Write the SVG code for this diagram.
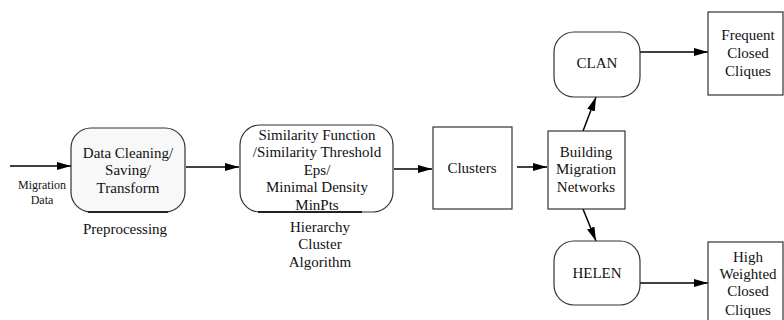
<svg xmlns="http://www.w3.org/2000/svg" width="784" height="320" viewBox="0 0 784 320">
<defs>
<marker id="ah" markerWidth="14" markerHeight="8" refX="14" refY="4" orient="auto" markerUnits="userSpaceOnUse">
<path d="M0,0 L14,4 L0,8 Z" fill="#000"/>
</marker>
</defs>
<style>
.box{fill:#fff;stroke:#333;stroke-width:1.2}
text{font-family:'Liberation Serif','Times New Roman',Times,'DejaVu Serif',serif;fill:#111;text-anchor:middle}
.t{font-size:15px}
.s{font-size:12px}
.c{stroke:#000;stroke-width:1.5;fill:none;marker-end:url(#ah)}
.sh{stroke:#222;stroke-width:2}
</style>
<rect width="784" height="320" fill="#fff"/>
<g id="connectors">
<line class="c" x1="10" y1="166" x2="71" y2="166"/>
<line class="c" x1="186" y1="167" x2="239" y2="167"/>
<line class="c" x1="394" y1="169" x2="432" y2="169"/>
<line class="c" x1="517" y1="167" x2="547" y2="167"/>
<line class="c" x1="583" y1="131" x2="596" y2="97"/>
<line class="c" x1="583" y1="209" x2="596" y2="241"/>
<line class="c" x1="638" y1="52" x2="708" y2="52"/>
<line class="c" x1="638" y1="283" x2="708" y2="283"/>
</g>
<g id="input" font-family="Liberation Serif, serif">
<text class="s" x="42" y="189">Migration</text>
<text class="s" x="42" y="204">Data</text>
</g>
<g id="preprocessing">
<rect class="box" x="71" y="128" width="114" height="84" rx="20" style="fill:#f8f8f8"/>
<line class="sh" x1="88" y1="212" x2="168" y2="212"/>
<text class="t" x="128" y="158">Data Cleaning/</text>
<text class="t" x="128" y="175">Saving/</text>
<text class="t" x="128" y="193">Transform</text>
<text class="t" x="125" y="234">Preprocessing</text>
</g>
<g id="hierarchy">
<rect class="box" x="240" y="125" width="153" height="87" rx="20"/>
<line class="sh" x1="258" y1="212" x2="362" y2="212"/>
<text class="t" x="317" y="140">Similarity Function</text>
<text class="t" x="317" y="157">/Similarity Threshold</text>
<text class="t" x="317" y="175">Eps/</text>
<text class="t" x="317" y="192">Minimal Density</text>
<text class="t" x="317" y="210">MinPts</text>
<text class="t" x="320" y="232">Hierarchy</text>
<text class="t" x="320" y="249">Cluster</text>
<text class="t" x="320" y="267">Algorithm</text>
</g>
<g id="clusters">
<rect class="box" x="433" y="127" width="79" height="82"/>
<text class="t" x="472" y="173">Clusters</text>
</g>
<g id="building">
<rect class="box" x="548" y="131" width="77" height="78"/>
<text class="t" x="586" y="157">Building</text>
<text class="t" x="586" y="174">Migration</text>
<text class="t" x="586" y="192">Networks</text>
</g>
<g id="clan">
<rect class="box" x="554" y="32" width="86" height="65" rx="20"/>
<text class="t" x="597" y="68">CLAN</text>
</g>
<g id="helen">
<rect class="box" x="554" y="241" width="86" height="64" rx="20"/>
<text class="t" x="597" y="278">HELEN</text>
</g>
<g id="frequent">
<rect class="box" x="708" y="12" width="75" height="83"/>
<text class="t" x="748" y="40">Frequent</text>
<text class="t" x="748" y="58">Closed</text>
<text class="t" x="748" y="76">Cliques</text>
</g>
<g id="high">
<rect class="box" x="708" y="242" width="75" height="90"/>
<text class="t" x="748" y="262">High</text>
<text class="t" x="748" y="279">Weighted</text>
<text class="t" x="748" y="296">Closed</text>
<text class="t" x="748" y="315">Cliques</text>
</g>
</svg>
